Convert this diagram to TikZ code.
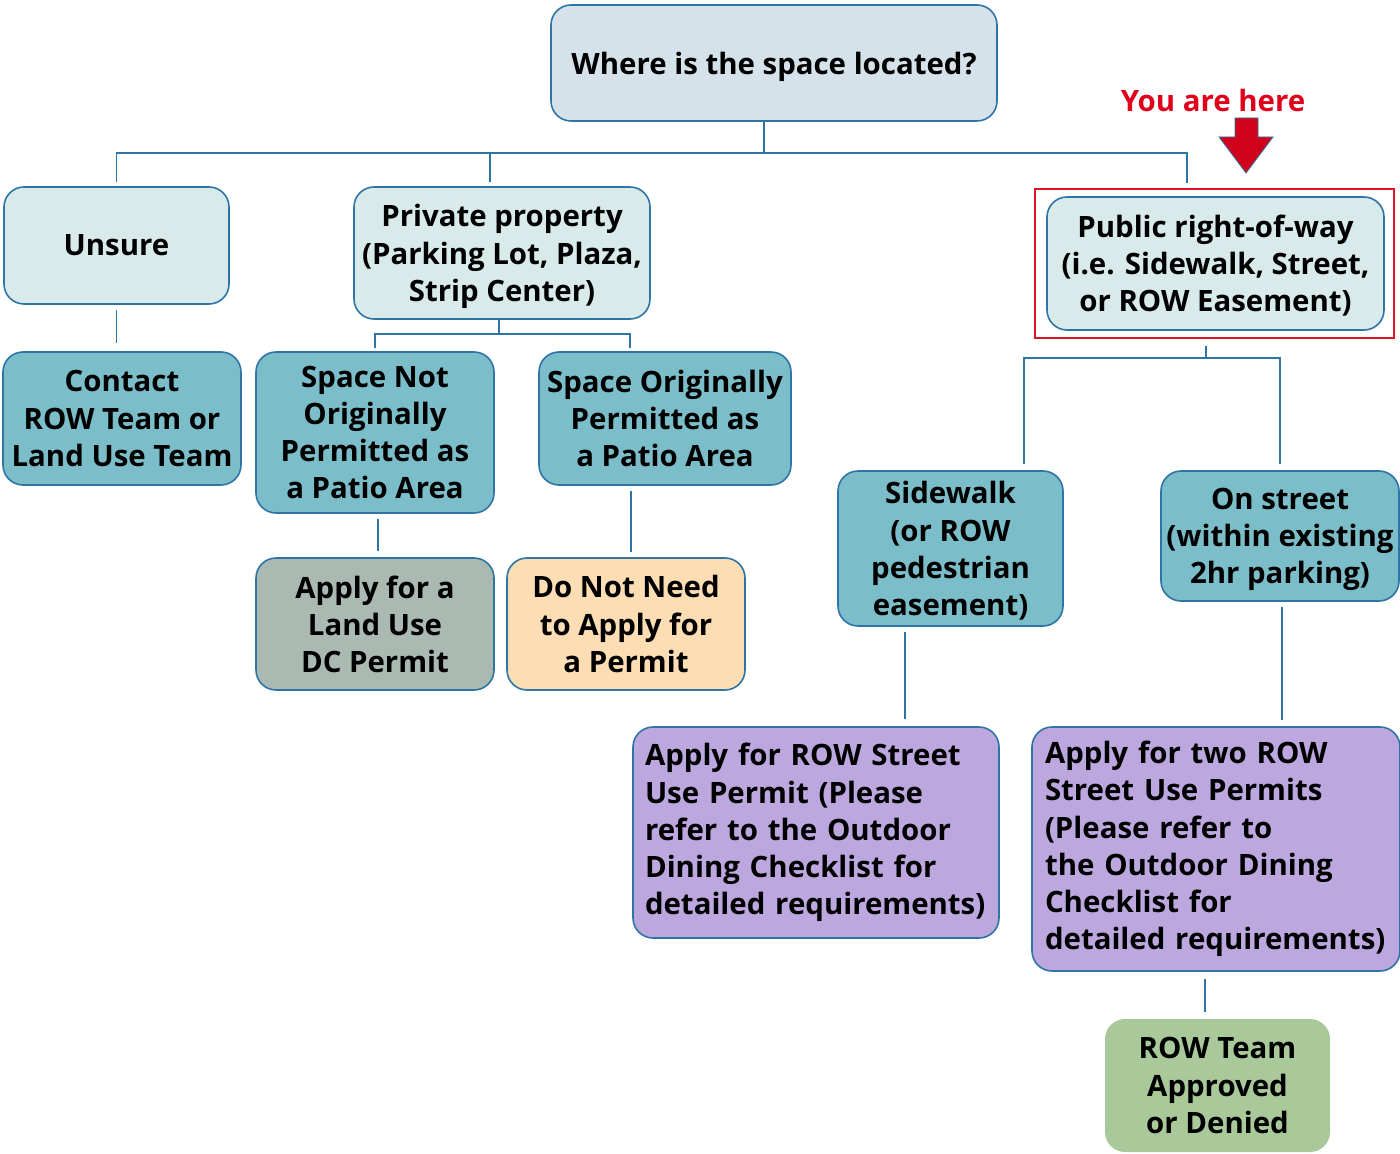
\documentclass[tikz,border=0pt]{standalone}
\usepackage{fontspec}
\setsansfont{Open Sans}
\definecolor{edgeblue}{RGB}{46,117,166}
\definecolor{topfill}{RGB}{214,226,234}
\definecolor{palefill}{RGB}{217,234,234}
\definecolor{tealfill}{RGB}{123,190,201}
\definecolor{greyfill}{RGB}{170,185,177}
\definecolor{peachfill}{RGB}{252,221,180}
\definecolor{lavfill}{RGB}{188,167,222}
\definecolor{greenfill}{RGB}{169,201,154}
\definecolor{herered}{RGB}{224,0,27}
\definecolor{arrowred}{RGB}{208,2,27}
\definecolor{framered}{RGB}{220,20,40}

\begin{document}
\begin{tikzpicture}[x=0.5pt,y=-0.5pt,
  txt/.style={font=\sffamily\bfseries\fontsize{14.7}{18.6}\selectfont},
  box/.style={txt,draw=edgeblue,line width=0.8pt,rounded corners=10pt,
    align=center,inner sep=2pt,text=black},
  cbox/.style={box,text depth=0pt},
  query/.style={cbox,fill=topfill},
  choice/.style={cbox,fill=palefill},
  branch/.style={cbox,fill=tealfill},
  landbox/.style={cbox,fill=greyfill},
  freebox/.style={cbox,fill=peachfill},
  rowbox/.style={box,fill=lavfill,align=left,text width=171pt},
  okbox/.style={cbox,fill=greenfill,draw=none},
  link/.style={draw=edgeblue,line width=0.9pt}]
  \useasboundingbox (0,0) rectangle (1400,1154);
  \node[query,minimum width=223pt,minimum height=58pt] (where) at (774,63)
    {Where is the space located?};
  \node[choice,minimum width=112.5pt,minimum height=58.5pt] (unsure)
    at (116.5,245.5) {Unsure};
  \node[choice,minimum width=148pt,minimum height=66pt] (private) at (502,253)
    {Private property\\(Parking Lot, Plaza,\\Strip Center)};
  \node[draw=framered,line width=1pt,minimum width=179.5pt,
    minimum height=74.5pt] (frame) at (1214.5,263.5) {};
  \node[choice,minimum width=168.5pt,minimum height=66.5pt] (public)
    at (1215.5,263.5)
    {Public right-of-way\\(i.e. Sidewalk, Street,\\or ROW Easement)};
  \node[txt,text=herered] (here) at (1213,100) {You are here};
  \filldraw[fill=arrowred,draw=edgeblue,line width=0.4pt] (1235,118)
    -- (1258,118) -- (1258,137) -- (1273,137) -- (1246,173) -- (1219,137)
    -- (1235,137) -- cycle;
  \node[branch,minimum width=119pt,minimum height=66.5pt] (contact)
    at (122,418.5) {Contact\\ROW Team or\\Land Use Team};
  \node[branch,minimum width=119pt,minimum height=80.5pt] (notorig)
    at (375,432.5) {Space Not\\Originally\\Permitted as\\a Patio Area};
  \node[branch,minimum width=126pt,minimum height=66.5pt] (orig)
    at (665,418.5) {Space Originally\\Permitted as\\a Patio Area};
  \node[branch,minimum width=112.5pt,minimum height=77.5pt] (sidewalk)
    at (950.5,548.5) {Sidewalk\\(or ROW\\pedestrian\\easement)};
  \node[branch,minimum width=119pt,minimum height=65pt] (onstreet)
    at (1280,536) {On street\\(within existing\\2hr parking)};
  \node[landbox,minimum width=119pt,minimum height=66pt] (landuse)
    at (375,624) {Apply for a\\Land Use\\DC Permit};
  \node[freebox,minimum width=119pt,minimum height=66pt] (noneed)
    at (626,624) {Do Not Need\\to Apply for\\a Permit};
  \node[rowbox,minimum width=183pt,minimum height=105.5pt] (streetuse)
    at (816,832.5) {Apply for ROW Street\\Use Permit (Please\\refer to the Outdoor\\Dining Checklist for\\detailed requirements)};
  \node[rowbox,minimum width=184pt,minimum height=122pt] (twopermits)
    at (1216,849) {Apply for two ROW\\Street Use Permits\\(Please refer to\\the Outdoor Dining\\Checklist for\\detailed requirements)};
  \node[okbox,minimum width=112.5pt,minimum height=66.5pt] (decision)
    at (1217.5,1085.5) {ROW Team\\Approved\\or Denied};
  \coordinate (split1) at (764,153);
  \coordinate (split2) at (499,334);
  \coordinate (split3) at (1206,358);
  \draw[link] (where.south -| split1) -- (split1);
  \draw[link,shorten >=2pt] (split1) -| (unsure.north);
  \draw[link,shorten >=2pt] (split1) -| ([xshift=-6pt]private.north);
  \draw[link,shorten >=2.5pt] (split1) -| ([xshift=-13.75pt]frame.north);
  \draw[link] (private.south -| split2) -- (split2);
  \draw[link,shorten >=1.5pt] (split2) -| (notorig.north);
  \draw[link,shorten >=1.5pt] (split2) -| ([xshift=-17.5pt]orig.north);
  \draw[link,shorten <=3.5pt] (frame.south -| split3) -- (split3);
  \draw[link,shorten >=3pt] (split3) -| ([xshift=36.75pt]sidewalk.north);
  \draw[link,shorten >=3pt] (split3) -| (onstreet.north);
  \draw[link,shorten <=2.5pt,shorten >=4pt] (unsure.south)
    -- (unsure.south |- contact.north);
  \draw[link,shorten <=2.5pt,shorten >=3pt] ([xshift=1.5pt]notorig.south)
    -- ([xshift=1.5pt]notorig.south |- landuse.north);
  \draw[link,shorten <=2.5pt,shorten >=2.5pt] ([xshift=2.5pt]noneed.north |- orig.south)
    -- ([xshift=2.5pt]noneed.north);
  \draw[link,shorten <=2.5pt,shorten >=3.5pt] ([xshift=-22.75pt]sidewalk.south)
    -- ([xshift=-22.75pt]sidewalk.south |- streetuse.north);
  \draw[link,shorten <=2.5pt,shorten >=3pt] ([xshift=1pt]onstreet.south)
    -- ([xshift=1pt]onstreet.south |- twopermits.north);
  \draw[link,shorten <=3.5pt,shorten >=3pt] ([xshift=-6.25pt]decision.north |- twopermits.south)
    -- ([xshift=-6.25pt]decision.north);
\end{tikzpicture}
\end{document}
